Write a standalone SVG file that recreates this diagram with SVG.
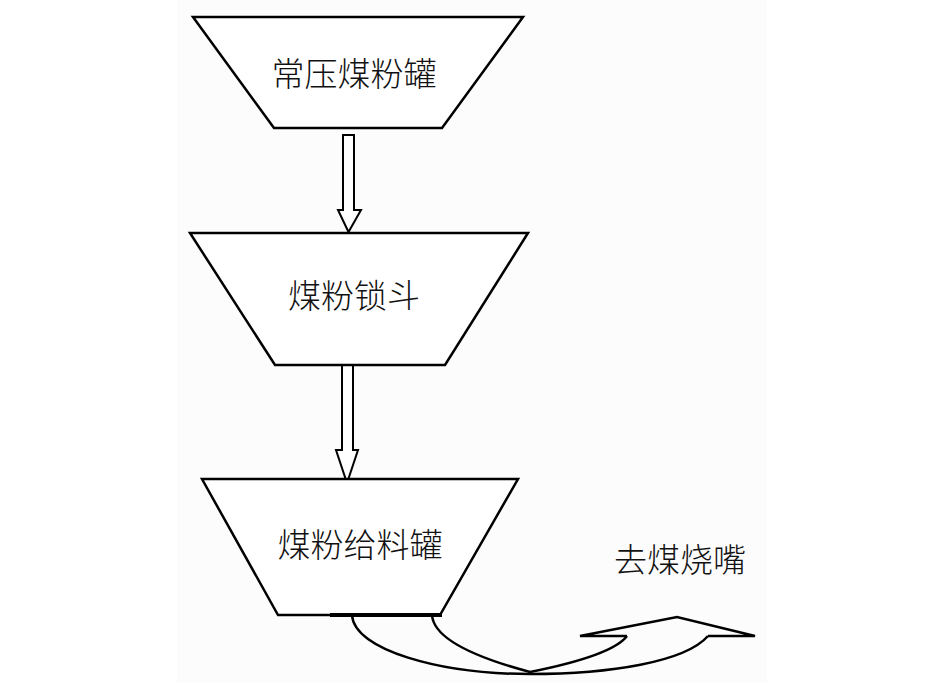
<svg xmlns="http://www.w3.org/2000/svg" width="945" height="697" viewBox="0 0 945 697">
<style>
.box{fill:#ffffff;stroke:#000000;stroke-width:2.5;stroke-linejoin:miter}
.lbl{font-family:"Noto Sans CJK SC","Liberation Serif",serif;font-size:33px;fill:#111111;text-anchor:middle;font-weight:300}
.arr{fill:#ffffff;stroke:#000000;stroke-width:2;stroke-linejoin:miter}
.cur{fill:none;stroke:#000000;stroke-width:2.5;stroke-linejoin:miter}
</style>
<rect x="0" y="0" width="945" height="697" fill="#ffffff"/>
<rect x="177" y="0" width="590" height="683" fill="#fcfcfc"/>
<g id="connectors">
<polygon class="arr" points="343,135 354,135 354,210 361,210 348.5,232 338,210 343,210"/>
<polygon class="arr" points="342,365 353,365 353,450 358,450 347,483 336,450 342,450"/>
<path class="cur" d="M352,615 C354,650 440,674 530,674 C610,674 685,662 708,636"/>
<path class="cur" d="M432,615 C434,645 500,664 530,672 C570,664 615,652 627,636"/>
<polyline class="cur" points="627,636 580,636 677,617 755,636 708,636"/>
</g>
<g id="node1">
<polygon class="box" points="193,17 523,17 442,128 274,128"/>
<text class="lbl" x="354" y="86">常压煤粉罐</text>
</g>
<g id="node2">
<polygon class="box" points="190,233 528,233 445,365 275,365"/>
<text class="lbl" x="354" y="308">煤粉锁斗</text>
</g>
<g id="node3">
<polygon class="box" points="202,479 518,479 440,615 278,615"/>
<line x1="330" y1="615" x2="442" y2="615" stroke="#000" stroke-width="4"/>
<text class="lbl" x="360" y="557">煤粉给料罐</text>
</g>
<g id="label-out">
<text class="lbl" x="680" y="572">去煤烧嘴</text>
</g>
</svg>
